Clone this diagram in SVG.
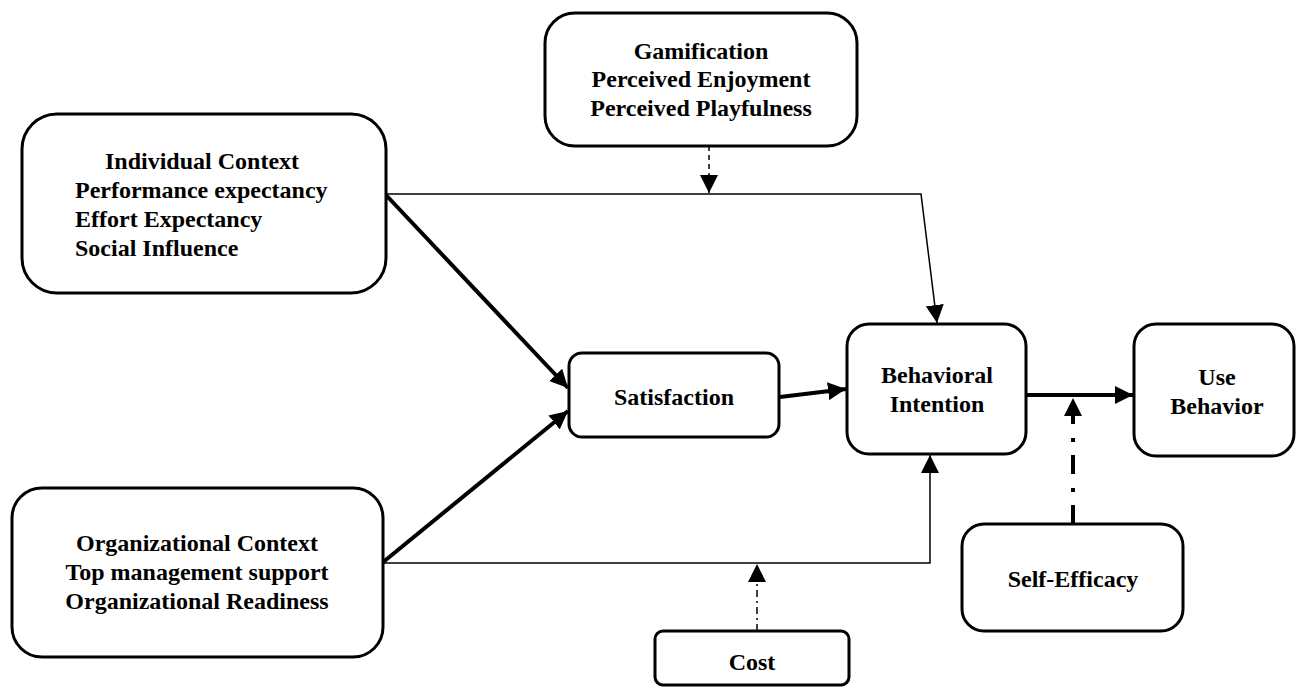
<svg xmlns="http://www.w3.org/2000/svg" width="1296" height="687" viewBox="0 0 1296 687">
<defs>
<style>
.box{fill:#fff;stroke:#000;stroke-width:3}
.t{font-family:"Liberation Serif","Times New Roman",serif;font-weight:bold;font-size:24px;fill:#000}
.c{text-anchor:middle}
.thick{fill:none;stroke:#000;stroke-width:4}
.thin{fill:none;stroke:#000;stroke-width:1.5}
</style>
<marker id="ah" markerUnits="userSpaceOnUse" markerWidth="18" markerHeight="18" refX="18" refY="9" orient="auto">
<path d="M0,0 L18,9 L0,18 Z" fill="#000"/>
</marker>
</defs>
<rect width="1296" height="687" fill="#fff"/>
<g id="connectors">
<path class="thin" d="M385,194 L921,194 L937,323" marker-end="url(#ah)"/>
<path class="thin" d="M709,146 L709,193" stroke-dasharray="5 4" marker-end="url(#ah)"/>
<path class="thin" d="M382,563 L930,563 L930,455" marker-end="url(#ah)"/>
<path class="thin" d="M757,631 L757,564" stroke-dasharray="7 4 2 4" marker-end="url(#ah)"/>
<path class="thick" d="M385,194 L568,388" marker-end="url(#ah)"/>
<path class="thick" d="M382,563 L568,411" marker-end="url(#ah)"/>
<path class="thick" d="M780,397 L846,389" marker-end="url(#ah)"/>
<path class="thick" d="M1026,395 L1133,395" marker-end="url(#ah)"/>
<path class="thick" d="M1073,524 L1073,398" stroke-width="4.5" stroke-dasharray="19 13 4 14" marker-end="url(#ah)"/>
</g>
<g id="gamification">
<rect class="box" x="545" y="13" width="312" height="133" rx="30"/>
<text class="t c" x="701" y="59">Gamification</text>
<text class="t c" x="701" y="87">Perceived Enjoyment</text>
<text class="t c" x="701" y="116">Perceived Playfulness</text>
</g>
<g id="individual">
<rect class="box" x="22" y="114" width="364" height="179" rx="35"/>
<text class="t c" x="202" y="169">Individual Context</text>
<text class="t" x="75" y="198">Performance expectancy</text>
<text class="t" x="75" y="227">Effort Expectancy</text>
<text class="t" x="75" y="256">Social Influence</text>
</g>
<g id="organizational">
<rect class="box" x="12" y="488" width="371" height="169" rx="30"/>
<text class="t c" x="197" y="551">Organizational Context</text>
<text class="t c" x="197" y="580">Top management support</text>
<text class="t c" x="197" y="609">Organizational Readiness</text>
</g>
<g id="satisfaction">
<rect class="box" x="569" y="353" width="210" height="84" rx="13"/>
<text class="t c" x="674" y="405">Satisfaction</text>
</g>
<g id="behavioral-intention">
<rect class="box" x="847" y="324" width="179" height="130" rx="22"/>
<text class="t c" x="937" y="383">Behavioral</text>
<text class="t c" x="937" y="412">Intention</text>
</g>
<g id="use-behavior">
<rect class="box" x="1134" y="324" width="160" height="132" rx="22"/>
<text class="t c" x="1217" y="385">Use</text>
<text class="t c" x="1217" y="414">Behavior</text>
</g>
<g id="self-efficacy">
<rect class="box" x="962" y="524" width="221" height="107" rx="22"/>
<text class="t c" x="1073" y="587">Self-Efficacy</text>
</g>
<g id="cost">
<rect class="box" x="655" y="631" width="194" height="54" rx="8"/>
<text class="t c" x="752" y="670">Cost</text>
</g>
</svg>
